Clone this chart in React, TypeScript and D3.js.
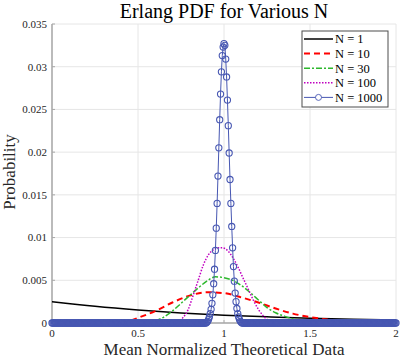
import React, { useEffect, useRef } from 'react';
import * as d3 from 'd3';

// N = 1 (exponential)
const n1X = [0, 0.25, 0.5, 0.75, 1, 1.25, 1.5, 1.75, 2];
const n1Y = [0.0025, 0.00195, 0.00152, 0.00118, 0.00092, 0.00072, 0.00055, 0.00043, 0.00034];

// N = 10
const n10X = [0.46, 0.5, 0.6, 0.7, 0.8, 0.9, 1.0, 1.1, 1.2, 1.3, 1.4, 1.5, 1.6, 1.65];
const n10Y = [0.0003, 0.0006, 0.0014, 0.0024, 0.0032, 0.0036, 0.0035, 0.003, 0.0024, 0.0017, 0.0011, 0.0007, 0.0004, 0.0003];

// N = 30
const n30X = [0.6, 0.65, 0.7, 0.75, 0.8, 0.85, 0.9, 0.95, 1.0, 1.05, 1.1, 1.15, 1.2, 1.25, 1.3, 1.35, 1.4, 1.45];
const n30Y = [0.0002, 0.0007, 0.0014, 0.0023, 0.0032, 0.0041, 0.0049, 0.0054, 0.0053, 0.005, 0.0044, 0.0036, 0.0027, 0.0018, 0.0012, 0.0008, 0.0005, 0.0003];

// N = 100
const n100X = [0.73, 0.76, 0.79, 0.82, 0.85, 0.88, 0.91, 0.94, 0.97, 0.99, 1.02, 1.05, 1.08, 1.11, 1.14, 1.17, 1.2, 1.23, 1.26, 1.3];
const n100Y = [0.0001, 0.0006, 0.0015, 0.0032, 0.005, 0.0068, 0.008, 0.0086, 0.0088, 0.0088, 0.0085, 0.0077, 0.0066, 0.0053, 0.004, 0.0027, 0.0016, 0.0008, 0.0003, 0.0001];

// N = 1000, sampled every 0.005; only the peak (0.9 .. 1.1) is above zero
const n1000X = d3.range(401).map(i => +(i * 0.005).toFixed(3));
const n1000Peak = [
    0.0001, 0.0002, 0.0004, 0.0007, 0.0011, 0.0016, 0.0023, 0.0033, 0.0046, 0.0063,
    0.0085, 0.0111, 0.014, 0.0172, 0.0205, 0.0238, 0.0268, 0.0294, 0.0313, 0.0323,
    0.0327,
    0.0325, 0.0309, 0.0288, 0.0261, 0.0231, 0.0199, 0.0168, 0.014, 0.0113, 0.0088,
    0.0066, 0.0049, 0.0035, 0.0025, 0.0017, 0.0011, 0.0007, 0.0004, 0.0002, 0.0001
];
const n1000Y = n1000X.map((x, i) => (i >= 180 && i <= 220 ? n1000Peak[i - 180] : 0));

const xTicks = [0, 0.5, 1, 1.5, 2];
const yTicks = [0, 0.005, 0.01, 0.015, 0.02, 0.025, 0.03, 0.035];
const legendLabels = ['N = 1', 'N = 10', 'N = 30', 'N = 100', 'N = 1000'];

const FONT = '"Liberation Serif", "DejaVu Serif", serif';
const BLUE = '#4757b2';

const App = () => {
    const svgRef = useRef(null);

    useEffect(() => {
        const svg = d3.select(svgRef.current);
        svg.selectAll('*').remove();

        const left = 52, right = 396, top = 24, bottom = 323;
        const x = d3.scaleLinear().domain([0, 2]).range([left, right]);
        const y = d3.scaleLinear().domain([0, 0.035]).range([bottom, top]);

        svg.append('rect').attr('width', 400).attr('height', 358).attr('fill', 'white');

        // grid
        const grid = svg.append('g').attr('stroke', '#e6e6e6').attr('stroke-width', 1);
        xTicks.forEach(t => {
            grid.append('line').attr('x1', x(t)).attr('x2', x(t)).attr('y1', top).attr('y2', bottom);
        });
        yTicks.forEach(t => {
            grid.append('line').attr('x1', left).attr('x2', right).attr('y1', y(t)).attr('y2', y(t));
        });

        // axes
        svg.append('line').attr('x1', left).attr('x2', left).attr('y1', top).attr('y2', bottom)
            .attr('stroke', '#a8a8a8').attr('stroke-width', 1.5);
        svg.append('line').attr('x1', left).attr('x2', right).attr('y1', bottom).attr('y2', bottom)
            .attr('stroke', '#a8a8a8').attr('stroke-width', 1.5);

        yTicks.forEach(t => {
            svg.append('line').attr('x1', left).attr('x2', left + 3).attr('y1', y(t)).attr('y2', y(t))
                .attr('stroke', '#a8a8a8');
            svg.append('text')
                .attr('x', left - 5).attr('y', y(t)).attr('dy', '0.35em')
                .attr('text-anchor', 'end')
                .style('font-family', FONT).style('font-size', '11px').style('fill', '#262626')
                .text(String(+t.toFixed(3)));
        });
        xTicks.forEach(t => {
            svg.append('line').attr('x1', x(t)).attr('x2', x(t)).attr('y1', bottom).attr('y2', bottom - 3)
                .attr('stroke', '#a8a8a8');
            svg.append('text')
                .attr('x', x(t)).attr('y', 337)
                .attr('text-anchor', 'middle')
                .style('font-family', FONT).style('font-size', '11px').style('fill', '#262626')
                .text(String(t));
        });

        // labels
        svg.append('text')
            .attr('x', 224).attr('y', 18).attr('text-anchor', 'middle')
            .style('font-family', FONT).style('font-size', '20px').style('fill', '#000')
            .text('Erlang PDF for Various N');
        svg.append('text')
            .attr('x', 224).attr('y', 355).attr('text-anchor', 'middle')
            .style('font-family', FONT).style('font-size', '17px').style('fill', '#262626')
            .text('Mean Normalized Theoretical Data');
        svg.append('text')
            .attr('transform', 'rotate(-90)')
            .attr('x', -172).attr('y', 15).attr('text-anchor', 'middle')
            .style('font-family', FONT).style('font-size', '17px').style('fill', '#262626')
            .text('Probability');

        // curves
        const line = (xs, ys, curve) => d3.line()
            .x((d, i) => x(xs[i]))
            .y(d => y(d))
            .curve(curve)(ys);

        const styles = [
            { xs: n1X, ys: n1Y, color: '#000000', width: 1.5, dash: null },
            { xs: n10X, ys: n10Y, color: '#ff0000', width: 2, dash: '6,4' },
            { xs: n30X, ys: n30Y, color: '#2db82d', width: 1.5, dash: '6,2,2,2' },
            { xs: n100X, ys: n100Y, color: '#c000c0', width: 1.5, dash: '1.5,1.5' },
        ];
        styles.forEach(s => {
            svg.append('path')
                .attr('d', line(s.xs, s.ys, d3.curveMonotoneX))
                .attr('fill', 'none')
                .attr('stroke', s.color)
                .attr('stroke-width', s.width)
                .attr('stroke-dasharray', s.dash);
        });

        svg.append('path')
            .attr('d', line(n1000X, n1000Y, d3.curveLinear))
            .attr('fill', 'none')
            .attr('stroke', BLUE)
            .attr('stroke-width', 1);
        svg.append('g').selectAll('circle')
            .data(n1000Y)
            .join('circle')
            .attr('cx', (d, i) => x(n1000X[i]))
            .attr('cy', d => y(d))
            .attr('r', 3.1)
            .attr('fill', 'none')
            .attr('stroke', BLUE)
            .attr('stroke-width', 1.1);

        // legend
        const legend = svg.append('g');
        legend.append('rect')
            .attr('x', 302).attr('y', 31).attr('width', 86).attr('height', 76)
            .attr('fill', 'white').attr('stroke', '#4d4d4d').attr('stroke-width', 1);
        legendLabels.forEach((label, i) => {
            const ly = 39 + i * 14.6;
            const s = styles[i];
            legend.append('line')
                .attr('x1', 304).attr('x2', 333).attr('y1', ly).attr('y2', ly)
                .attr('stroke', s ? s.color : BLUE)
                .attr('stroke-width', s ? s.width : 1)
                .attr('stroke-dasharray', s ? s.dash : null);
            if (!s) {
                legend.append('circle')
                    .attr('cx', 318.5).attr('cy', ly).attr('r', 3)
                    .attr('fill', 'white').attr('stroke', BLUE).attr('stroke-width', 0.9);
            }
            legend.append('text')
                .attr('x', 335).attr('y', ly).attr('dy', '0.35em')
                .style('font-family', FONT).style('font-size', '12.5px').style('fill', '#000')
                .text(label);
        });
    }, []);

    return (
        <svg ref={svgRef} width={400} height={358}
            style={{ position: 'absolute', left: 0, top: 0, display: 'block' }} />
    );
};

export default App;
